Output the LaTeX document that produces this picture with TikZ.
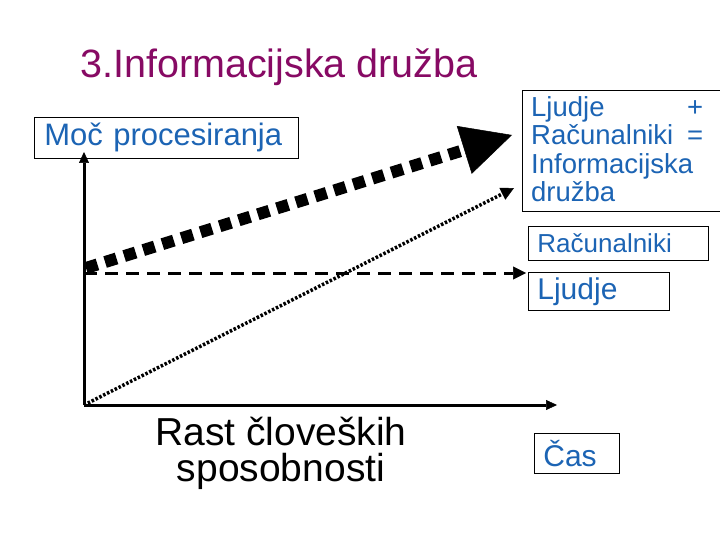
\documentclass[tikz,border=0pt]{standalone}
\usepackage{fontspec}
\setmainfont{Liberation Sans}
\usetikzlibrary{arrows.meta}
\definecolor{txtblue}{RGB}{28,100,180}
\definecolor{titlepurple}{RGB}{135,10,100}
\tikzset{
  box/.style={draw, line width=0.8pt, inner xsep=9pt, inner ysep=0pt, align=left, anchor=north west, text=txtblue},
  axis/.style={line width=3pt, -{Triangle[length=11pt,width=10pt,line width=0.5pt]}},
  smalltip/.style={-{Triangle[length=13pt,width=13pt,line width=0.5pt]}},
}
\begin{document}
\begin{tikzpicture}[x=1pt,y=-1pt]
\clip (0,0) rectangle (720,540);
\fill[white] (0,0) rectangle (720,540);

% title
\node[anchor=base west, inner sep=0, text=titlepurple, font=\fontsize{39.5}{42}\selectfont] (title) at (80,78) {3.Informacijska družba};

% boxes
\node[box, inner xsep=10pt, text width=244pt, minimum width=264pt, minimum height=41pt, font=\fontsize{31}{34}\selectfont] (moc) at (34,117) {Moč procesiranja};
\node[box, text width=162pt, minimum width=180pt, minimum height=34pt, font=\fontsize{26}{28}\selectfont] (rac) at (528,226) {Računalniki};
\node[box, text width=123pt, minimum width=141pt, minimum height=38pt, font=\fontsize{30}{32}\selectfont] (ljud) at (528,272) {Ljudje};
\node[box, text width=67pt, minimum width=85pt, minimum height=40pt, font=\fontsize{30}{32}\selectfont] (cas) at (534,433) {Čas};

% big equation box
\node[draw, line width=0.8pt, anchor=north west, minimum width=210pt, minimum height=121pt, inner sep=0] (eqbox) at (522,90) {};
\node[anchor=north west, inner sep=0, align=left, text=txtblue, font=\fontsize{27.5}{28.5}\selectfont] (eq) at (531,96)
  {\hbox to 172pt{Ljudje\hfill+}\\\hbox to 172pt{Računalniki\hfill=}\\Informacijska\\družba};

% axis label
\node[anchor=north, inner sep=0, align=center, font=\fontsize{39}{36}\selectfont] (rast) at (281,417) {Rast človeških\\sposobnosti};

% coordinates
\coordinate (O) at (84,405);
\coordinate (Ytop) at (84,152);
\coordinate (Xend) at (557,405);
\coordinate (Ls) at (84,273);
\coordinate (Le) at (526,273);
\coordinate (Re) at (514,188);
\coordinate (Is) at (86,268);
\coordinate (Ie) at (512,135);

% axes
\draw[axis] (O) -- (Ytop);
\draw[axis] (O) -- (Xend);

% Ljudje: dashed
\draw[line width=3pt, dash pattern=on 13pt off 8pt, smalltip] (Ls) -- (Le);
% Racunalniki: dotted
\draw[line width=3.5pt, dash pattern=on 2.5pt off 1.8pt, smalltip] (O) -- (Re);
% Informacijska druzba: thick square dashes
\draw[line width=12pt, dash pattern=on 12pt off 8pt, -{Triangle[length=50pt,width=50pt,line width=0.5pt]}] (Is) -- (Ie);
\end{tikzpicture}
\end{document}
